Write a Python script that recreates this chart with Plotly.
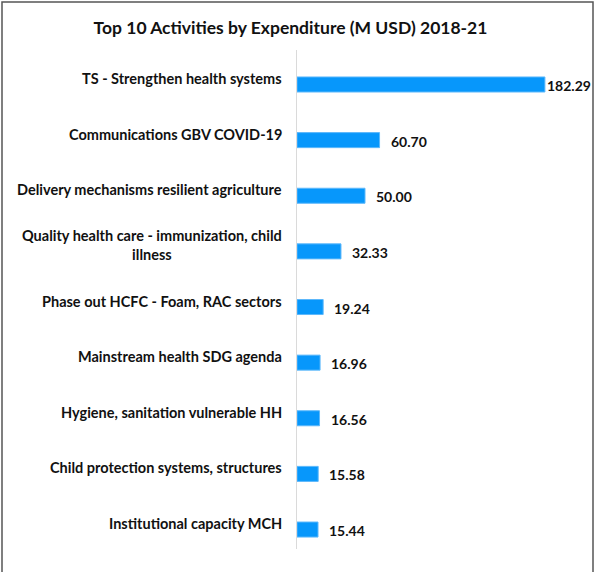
import plotly.graph_objects as go

# Expenditure by activity, million USD, 2018-21
activities = [
    "TS - Strengthen health systems",
    "Communications GBV COVID-19",
    "Delivery mechanisms resilient agriculture",
    "Quality health care - immunization, child<br>illness",
    "Phase out HCFC - Foam, RAC sectors",
    "Mainstream health SDG agenda",
    "Hygiene, sanitation vulnerable HH",
    "Child protection systems, structures",
    "Institutional capacity MCH",
]
expenditure = [182.29, 60.70, 50.00, 32.33, 19.24, 16.96, 16.56, 15.58, 15.44]

W, H = 596, 572
ML, MR, MT, MB = 297, 21, 50, 23
FONT = "Lato"
BAR_BLUE = "#0797FB"

fig = go.Figure(
    go.Bar(
        x=expenditure,
        y=activities,
        orientation="h",
        marker=dict(color=BAR_BLUE, line=dict(color="#5DB8FB", width=1)),
        width=0.27,
        hoverinfo="x+y",
    )
)

# category labels, centred multi-line, right-aligned against the axis
for name in activities:
    fig.add_annotation(
        x=0, xref="paper", y=name, yref="y",
        text="<b>" + name.replace("<br>", "</b><br><b>") + "</b>",
        showarrow=False,
        xanchor="right", xshift=-13, yshift=6, align="center",
        font=dict(family=FONT, size=14.5, color="#111111"),
    )

# value labels beyond the bar ends
top = max(expenditure)
for name, v in zip(activities, expenditure):
    fig.add_annotation(
        x=v, xref="x", y=name, yref="y",
        text=f"<b>{v:.2f}</b>", showarrow=False,
        xanchor="left", xshift=0 if v == top else 9, yshift=-1,
        font=dict(family=FONT, size=14, color="#111111"),
    )

# chart frame
pw = W - ML - MR
ph = H - MT - MB
fig.add_shape(
    type="rect", xref="paper", yref="paper",
    x0=(2 - ML) / pw, x1=(593 - ML) / pw,
    y0=-(MB + 10) / ph, y1=1 + (MT - 2) / ph,
    line=dict(color="#555555", width=1.5), fillcolor="rgba(0,0,0,0)",
    layer="below",
)

fig.update_layout(
    width=W, height=H,
    margin=dict(l=ML, r=MR, t=MT, b=MB),
    paper_bgcolor="white", plot_bgcolor="white",
    showlegend=False,
    bargap=0.73,
    title=dict(
        text="<b>Top 10 Activities by Expenditure (M USD) 2018-21</b>",
        x=(290.5) / W, xanchor="center", y=1 - 28 / H, yanchor="middle",
        font=dict(family=FONT, size=17.5, color="#111111"),
    ),
    xaxis=dict(range=[0, pw / 1.36], visible=False, fixedrange=True),
    yaxis=dict(
        type="category",
        range=[8.35, -0.62],
        showticklabels=False, ticks="",
        showgrid=False, zeroline=False,
        showline=True, linecolor="#DADADA", linewidth=1,
    ),
    font=dict(family=FONT),
)

fig.write_html("out.html")
